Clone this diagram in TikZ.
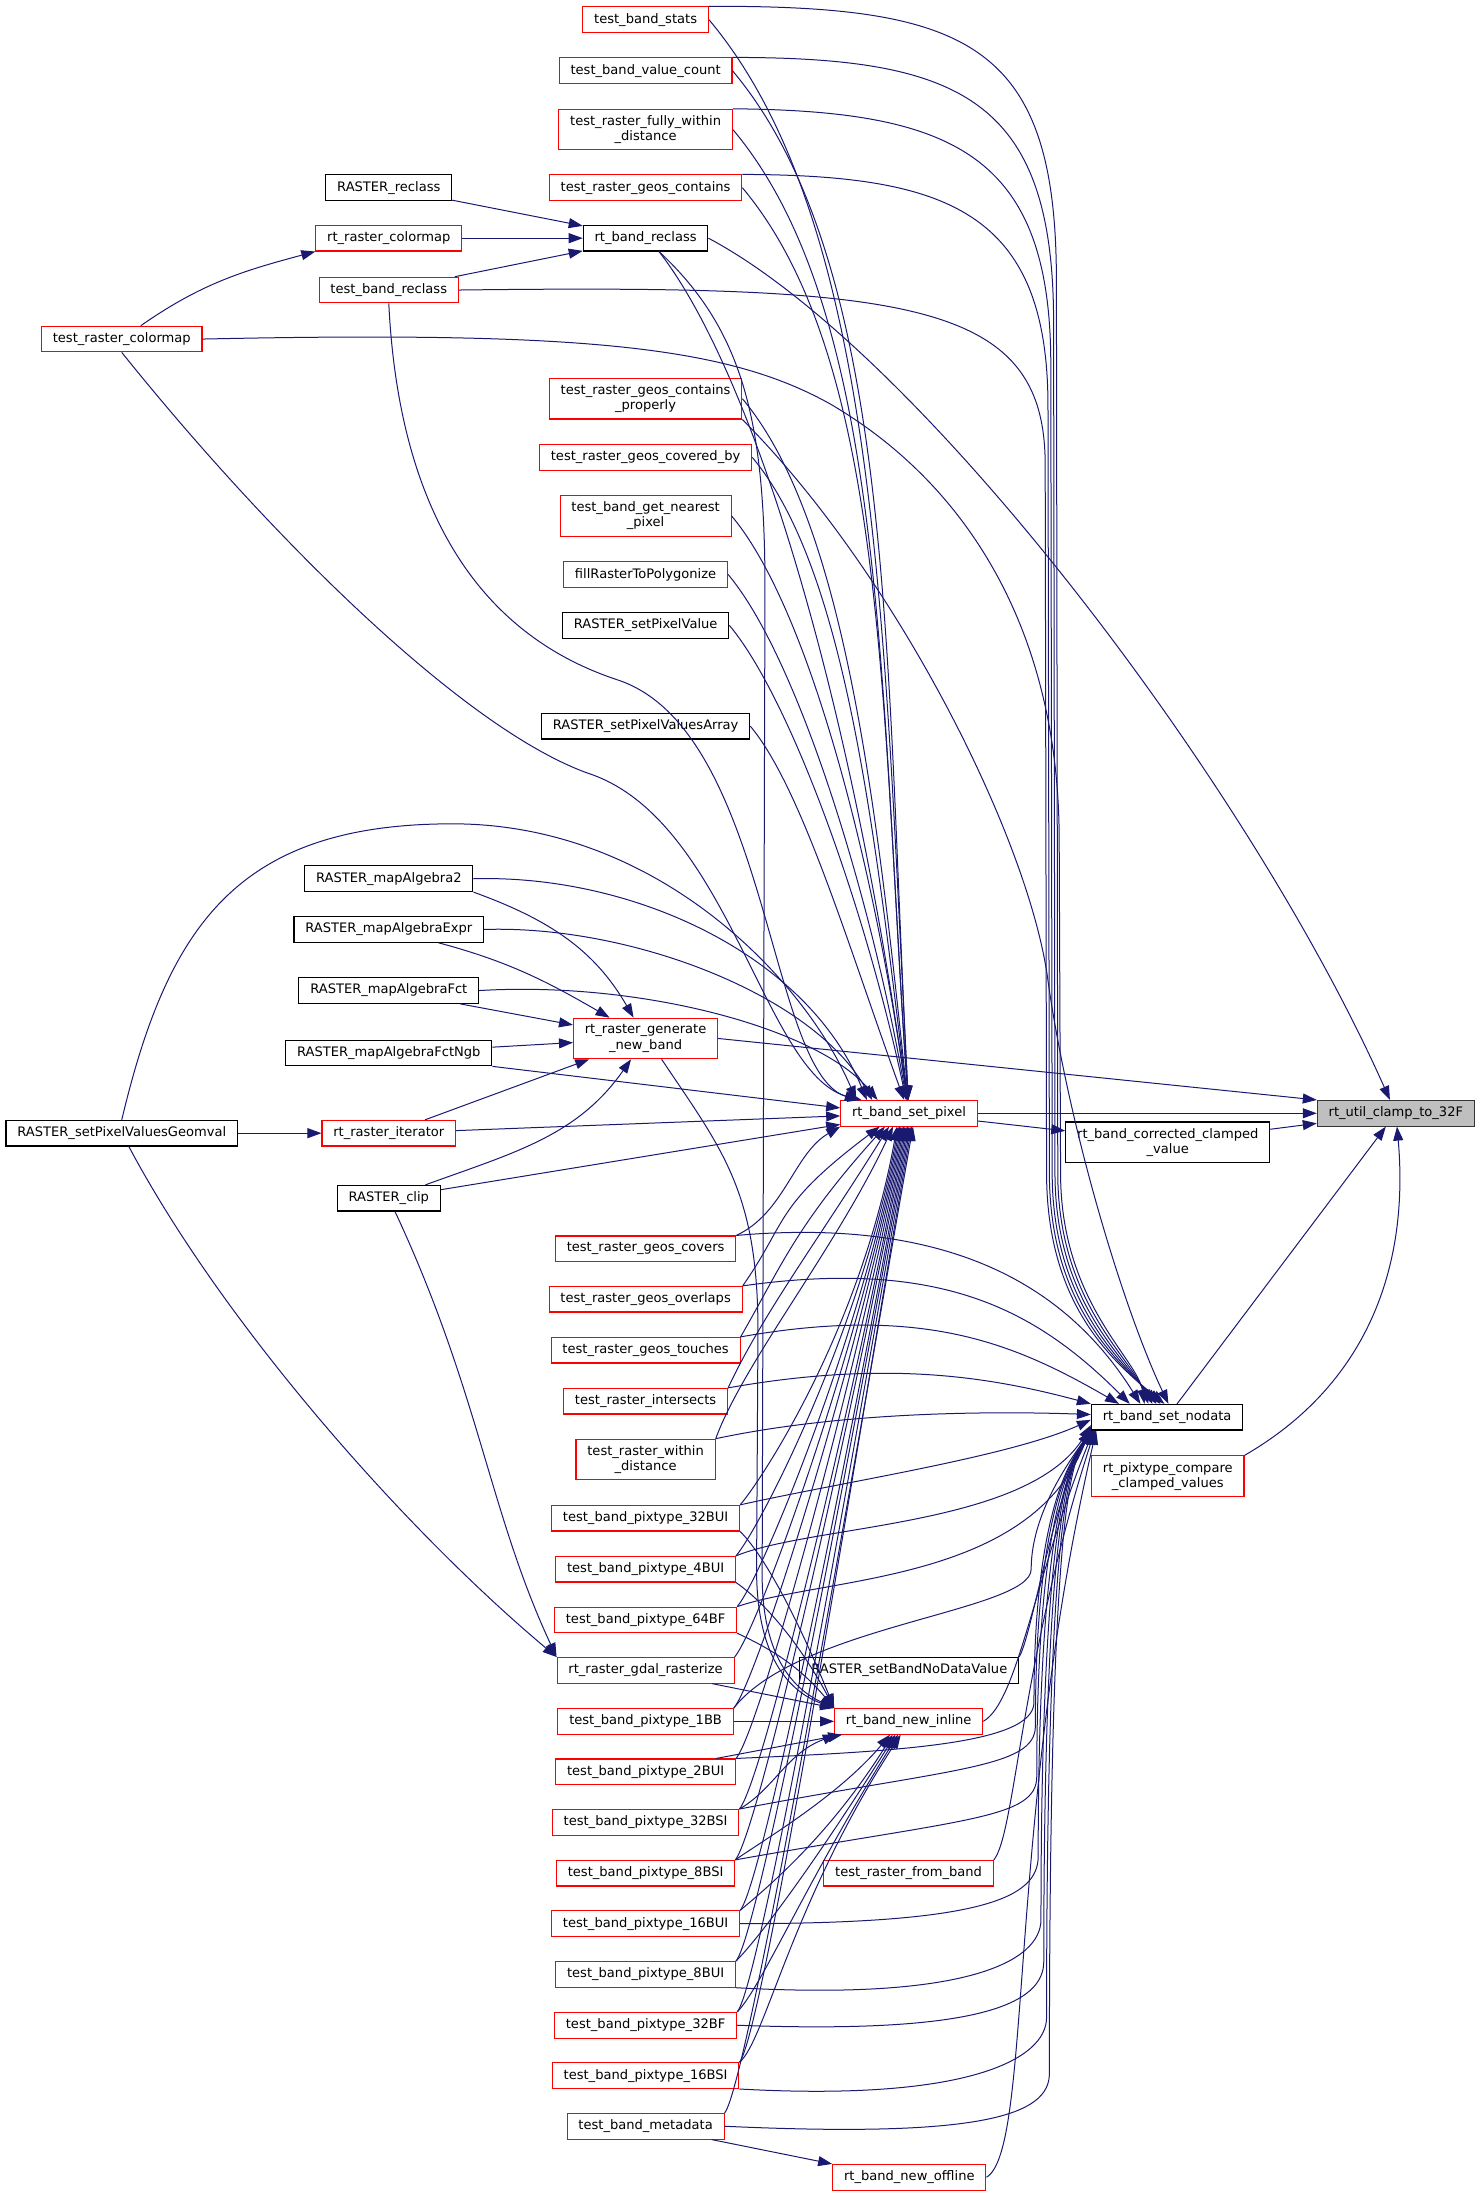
\documentclass[tikz,border=0pt]{standalone}
\usepackage{fontspec}
\setmainfont{DejaVu Sans}
\usetikzlibrary{arrows.meta}
\definecolor{midblue}{HTML}{191970}
\definecolor{boxred}{HTML}{FF0000}
\definecolor{rootgray}{HTML}{BFBFBF}

\begin{document}
\begin{tikzpicture}[x=1.0508pt,y=-1.0508pt,
    func/.style={draw=black,line width=0.8pt,inner xsep=8.5pt,inner ysep=1pt,
      minimum height=19.2pt,align=center,font=\fontsize{9.8}{11.3}\selectfont},
    redfunc/.style={func,draw=boxred},
    rootfunc/.style={func,fill=rootgray,draw=black!80},
    twoline/.style={minimum height=30.4pt},
    call/.style={draw=midblue,line width=0.75pt,-{Triangle[length=10.5pt,width=7.5pt]}}]
    \useasboundingbox (0,0) rectangle (1057,1567.4);

    % Function under study
    \node[rootfunc] (clamp) at (996.3,794.6) {rt\_util\_clamp\_to\_32F};

    % Direct callers
    \node[func,twoline] (corr) at (833.5,815.3) {rt\_band\_corrected\_clamped\\\_value};
    \node[func] (nodata) at (833,1011.5) {rt\_band\_set\_nodata};
    \node[redfunc,twoline] (cmp) at (833.5,1053.6) {rt\_pixtype\_compare\\\_clamped\_values};

    % Second column
    \node[redfunc] (setpix) at (648.8,794.6) {rt\_band\_set\_pixel};
    \node[func] (setbnd) at (649,1192.2) {RASTER\_setBandNoDataValue};
    \node[redfunc] (newinl) at (648.6,1228.6) {rt\_band\_new\_inline};
    \node[redfunc] (rfb) at (648.5,1337) {test\_raster\_from\_band};
    \node[redfunc] (newoff) at (649,1554) {rt\_band\_new\_offline};

    % Third column
    \node[redfunc] (stats) at (460.8,14) {test\_band\_stats};
    \node[redfunc] (vcount) at (460.8,50.5) {test\_band\_value\_count};
    \node[redfunc,twoline] (fwd) at (460.8,92.5) {test\_raster\_fully\_within\\\_distance};
    \node[redfunc] (gcont) at (460.8,134) {test\_raster\_geos\_contains};
    \node[func] (breclass) at (460.8,170) {rt\_band\_reclass};
    \node[redfunc,twoline] (gprop) at (460.8,284.6) {test\_raster\_geos\_contains\\\_properly};
    \node[redfunc] (gcovby) at (460.8,326.4) {test\_raster\_geos\_covered\_by};
    \node[redfunc,twoline] (nearest) at (460.8,368.3) {test\_band\_get\_nearest\\\_pixel};
    \node[redfunc] (fill) at (460.8,410) {fillRasterToPolygonize};
    \node[func] (spv) at (460.8,446.3) {RASTER\_setPixelValue};
    \node[func] (spva) at (460.8,518.3) {RASTER\_setPixelValuesArray};
    \node[redfunc,twoline] (gennb) at (460.8,741.2) {rt\_raster\_generate\\\_new\_band};
    \node[redfunc] (gcovers) at (460.8,891.3) {test\_raster\_geos\_covers};
    \node[redfunc] (goverl) at (460.8,927.3) {test\_raster\_geos\_overlaps};
    \node[redfunc] (gtouch) at (460.8,963.7) {test\_raster\_geos\_touches};
    \node[redfunc] (inters) at (460.8,1000.1) {test\_raster\_intersects};
    \node[redfunc,twoline] (wdist) at (460.8,1041.7) {test\_raster\_within\\\_distance};
    \foreach \n/\t/\y in {p32bui/32BUI/1083.6, p4bui/4BUI/1120, p64bf/64BF/1156.2,
        p1bb/1BB/1228.6, p2bui/2BUI/1264.6, p32bsi/32BSI/1300.7, p8bsi/8BSI/1337,
        p16bui/16BUI/1373, p8bui/8BUI/1409.2, p32bf/32BF/1445.5, p16bsi/16BSI/1481.5}
      \node[redfunc] (\n) at (460.8,\y) {test\_band\_pixtype\_\t};
    \node[redfunc] (gdal) at (460.8,1192.2) {rt\_raster\_gdal\_rasterize};
    \node[redfunc] (meta) at (460.8,1517.6) {test\_band\_metadata};

    % Fourth column
    \node[func] (rreclass) at (277.5,134) {RASTER\_reclass};
    \node[redfunc] (rcmap) at (277.5,170) {rt\_raster\_colormap};
    \node[redfunc] (tbreclass) at (277.5,207) {test\_band\_reclass};
    \node[func] (ma2) at (277.5,627.2) {RASTER\_mapAlgebra2};
    \node[func] (mae) at (277.5,663.4) {RASTER\_mapAlgebraExpr};
    \node[func] (maf) at (277.5,707) {RASTER\_mapAlgebraFct};
    \node[func] (mafn) at (277.5,751.6) {RASTER\_mapAlgebraFctNgb};
    \node[redfunc] (iter) at (277.5,808.8) {rt\_raster\_iterator};
    \node[func] (clip) at (277.5,855.2) {RASTER\_clip};

    % Fifth column
    \node[redfunc] (tcmap) at (86.9,242) {test\_raster\_colormap};
    \node[func] (geomval) at (86.9,808.8) {RASTER\_setPixelValuesGeomval};

    % Calls into rt_util_clamp_to_32F
    \draw[call] (setpix) -- (clamp);
    \draw[call] (corr) -- (clamp);
    \draw[call] (nodata) -- (clamp);
    \draw[call] (cmp.north east) to[out=30,in=-85] (clamp);
    \draw[call] (gennb.east) -- (clamp.north west);
    \draw[call] (breclass.east) to[out=-28,in=114,out distance=180pt,in distance=260pt] (clamp);
    \draw[call] (setpix) -- (corr);

    % Calls into rt_band_set_pixel from above
    \foreach \n/\od/\i/\id in {stats/200/93/350, vcount/190/93/330, fwd/180/94/310,
        gcont/170/94/290, gprop/120/96/220, gcovby/110/97/200, nearest/90/98/180,
        fill/80/100/160, spv/70/102/150, spva/60/110/120}
      \draw[call] (\n.east) to[out=-50,in=\i,out distance=\od pt,in distance=\id pt] (setpix);
    \draw[call] ([xshift=10pt]breclass.south) to[out=-52,in=98,out distance=110pt,in distance=320pt] (setpix);
    \draw[call] (tbreclass.south) .. controls (283,330) and (320,445) .. (440,485)
      .. controls (550,520) and (548,770) .. ([xshift=16pt]setpix.north west);
    \draw[call] (tcmap.south) .. controls (190,380) and (330,520) .. (420,552)
      .. controls (520,585) and (545,765) .. ([xshift=14pt]setpix.north west);
    \draw[call] (geomval.north) .. controls (120,660) and (170,588) .. (323,588)
      .. controls (470,588) and (575,700) .. ([xshift=12pt]setpix.north west);
    \draw[call] (ma2.east) .. controls (450,624) and (575,680) .. ([xshift=20pt]setpix.north west);
    \draw[call] (mae.east) .. controls (450,660) and (580,710) .. ([xshift=24pt]setpix.north west);
    \draw[call] (maf.east) .. controls (460,700) and (585,735) .. ([xshift=28pt]setpix.north west);
    \draw[call] (mafn.south east) -- ([yshift=4pt]setpix.west);
    \draw[call] (iter) -- (setpix);
    \draw[call] (clip) -- (setpix);

    % Calls into rt_band_set_pixel from below
    \draw[call] (gcovers.north east) to[out=25,in=210,out distance=40pt,in distance=40pt] (setpix.south west);
    \foreach \n/\s/\o/\i in {goverl/-22/55/217, gtouch/-18/60/228, inters/-15/65/238, wdist/-12/70/245}
      \draw[call] (\n.north east) to[out=\o,in=\i,out distance=60pt,in distance=100pt] ([xshift=\s pt]setpix.south);
    \foreach \n/\s in {p32bui/-9, p4bui/-8, p64bf/-7, gdal/-6, p1bb/-5, p2bui/-4, p32bsi/-3,
        p8bsi/-2, p16bui/-1, p8bui/0, p32bf/1, p16bsi/2, meta/3}
      \draw[call] (\n.north east) to[out=50,in=-100,out distance=30pt,in distance=150pt] ([xshift=\s pt]setpix.south);

    % Calls into rt_band_set_nodata from above
    \draw[call] (stats.north east) .. controls (690,4) and (754,30) .. (754,200)
      -- (755,840) .. controls (756,930) and (808,970) .. ([xshift=-14pt]nodata.north);
    \draw[call] (vcount.north east) .. controls (685,41) and (752,70) .. (752,230)
      -- (753,840) .. controls (754,930) and (804,970) .. ([xshift=-11pt]nodata.north);
    \draw[call] (fwd.north east) .. controls (680,79) and (750,110) .. (750,260)
      -- (751,840) .. controls (752,930) and (800,970) .. ([xshift=-8pt]nodata.north);
    \draw[call] (gcont.north east) .. controls (675,125) and (748,150) .. (748,290)
      -- (749,840) .. controls (750,930) and (796,970) .. ([xshift=-5pt]nodata.north);
    \draw[call] (tbreclass.east) .. controls (650,203) and (745,215) .. (746,330)
      -- (747,840) .. controls (748,930) and (792,970) .. ([xshift=-2pt]nodata.north);
    \draw[call] (tcmap.east) .. controls (420,236) and (520,248) .. (592,288)
      .. controls (690,345) and (756,450) .. (756,600)
      -- (757,840) .. controls (758,930) and (812,970) .. ([xshift=-17pt]nodata.north);
    \draw[call] (gprop.south east) .. controls (640,410) and (735,600) .. (748,700)
      .. controls (762,800) and (800,930) .. ([xshift=1pt]nodata.north);
    \draw[call] (gcovers.north east) to[out=5,in=122,out distance=160pt,in distance=105pt] ([xshift=-20pt]nodata.north);
    \draw[call] (goverl.north east) to[out=8,in=135,out distance=150pt,in distance=100pt] ([xshift=-28pt]nodata.north);
    \draw[call] (gtouch.north east) to[out=10,in=150,out distance=140pt,in distance=90pt] ([xshift=-36pt]nodata.north);
    \draw[call] (inters.north east) to[out=10,in=165,out distance=120pt,in distance=80pt] (nodata.north west);
    \draw[call] (wdist.north east) to[out=12,in=178,out distance=100pt,in distance=70pt] ([yshift=2pt]nodata.west);

    % Calls into rt_band_set_nodata from below
    \draw[call] (p32bui.north east) .. controls (600,1058) and (720,1040) .. ([yshift=-2pt]nodata.west);
    \draw[call] (p4bui.north east) .. controls (580,1088) and (735,1090) .. ([yshift=4pt]nodata.south west);
    \draw[call] (p64bf.north east) .. controls (590,1125) and (738,1130) .. ([yshift=3pt]nodata.south west);
    \foreach \n/\a/\cx/\cy/\xr/\yt/\k in {p1bb/north east/570/1160/736/1120/0,
        p2bui/north east/640/1250/738/1215/1, p32bsi/north east/680/1262/739/1232/2,
        p8bsi/north east/690/1298/740/1268/3, p16bui/east/700/1373/741/1325/4,
        p8bui/south east/690/1428/743/1370/0, p32bf/east/700/1452/745/1400/1,
        p16bsi/south east/690/1500/747/1440/2, meta/east/700/1526/749/1480/3}
      \draw[call] (\n.\a) .. controls (\cx,\cy) and (\xr,\yt+30) .. (\xr,\yt)
        .. controls (\xr,1080) and (764,1042) .. ([xshift=\k pt]nodata.south west);
    \draw[call] (setbnd.north east) to[out=60,in=-120,out distance=20pt,in distance=60pt] ([xshift=1pt]nodata.south west);
    \draw[call] (newinl.east) to[out=30,in=-112,out distance=30pt,in distance=120pt] ([xshift=2pt]nodata.south west);
    \draw[call] (rfb.north east) to[out=50,in=-108,out distance=25pt,in distance=180pt] ([xshift=3pt]nodata.south west);
    \draw[call] (newoff.east) to[out=30,in=-103,out distance=40pt,in distance=300pt] ([xshift=4pt]nodata.south west);

    % Calls into rt_band_new_inline
    \draw[call] ([xshift=10pt]breclass.south) .. controls (530,235) and (546,300) .. (546,420)
      -- (544,1120) .. controls (543,1180) and (565,1205) .. (newinl.north west);
    \draw[call] ([xshift=12pt]gennb.south) .. controls (515,820) and (541,850) .. (541,950)
      -- (540,1120) .. controls (540,1185) and (565,1208) .. (newinl.north west);
    \draw[call] (p32bui.south east) to[out=-45,in=112,out distance=30pt,in distance=60pt] (newinl.north west);
    \draw[call] (p4bui.south east) to[out=-35,in=118,out distance=30pt,in distance=50pt] (newinl.north west);
    \draw[call] (p64bf.south east) to[out=-25,in=130,out distance=30pt,in distance=40pt] (newinl.north west);
    \draw[call] (gdal) -- (newinl.north west);
    \draw[call] (p1bb) -- (newinl);
    \draw[call] (p2bui) -- ([xshift=6pt]newinl.south west);
    \draw[call] (p32bsi.north east) to[out=30,in=-160,out distance=30pt,in distance=40pt] ([xshift=2pt]newinl.south west);
    \foreach \n/\o/\i/\id/\s in {p8bsi/35/-130/60/-14, p16bui/40/-122/90/-12,
        p8bui/45/-122/110/-10, p32bf/45/-122/130/-8, p16bsi/40/-123/150/-6}
      \draw[call] (\n.north east) to[out=\o,in=\i,out distance=25pt,in distance=\id pt] ([xshift=\s pt]newinl.south);

    % Calls into rt_band_new_offline
    \draw[call] (meta) -- (newoff.north west);

    % Calls into rt_band_reclass and rt_raster_colormap
    \draw[call] (rreclass) -- (breclass);
    \draw[call] (rcmap) -- (breclass);
    \draw[call] (tbreclass) -- (breclass);
    \draw[call] (tcmap) to[out=35,in=195] (rcmap.south west);

    % Calls into rt_raster_generate_new_band
    \draw[call] (ma2.south east) to[out=-20,in=120] (gennb);
    \draw[call] (mae) to[out=-15,in=150] (gennb);
    \draw[call] (maf) -- (gennb);
    \draw[call] (mafn) -- (gennb);
    \draw[call] (iter) -- (gennb);
    \draw[call] (clip) to[out=20,in=-125] (gennb);

    % Calls into rt_raster_iterator and rt_raster_gdal_rasterize
    \draw[call] (geomval) -- (iter);
    \draw[call] (geomval) to[out=-62,in=140,out distance=150pt,in distance=150pt] (gdal.north west);
    \draw[call] (clip) to[out=-65,in=115,out distance=150pt,in distance=120pt] (gdal.north west);
\end{tikzpicture}
\end{document}
